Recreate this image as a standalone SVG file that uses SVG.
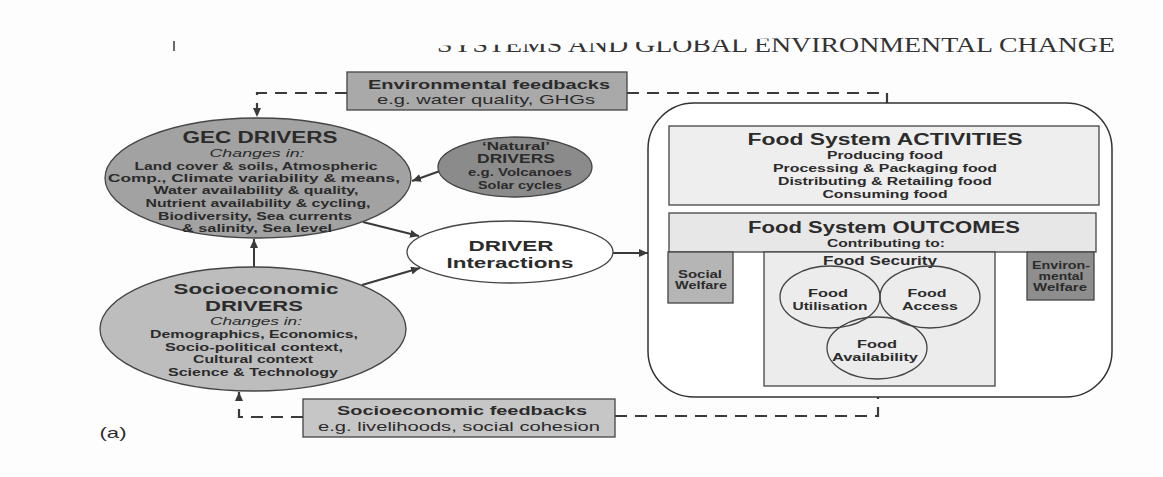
<svg xmlns="http://www.w3.org/2000/svg" width="1163" height="477" viewBox="0 0 1163 477">
<defs>
<style>
text{font-family:"Liberation Sans",Arial,sans-serif;fill:#2b2b2b;text-anchor:middle}
.b{font-weight:bold}
.i{font-style:italic}
.hd{font-family:"Liberation Serif","Times New Roman",serif;font-size:21px;fill:#333;text-anchor:start}
.ln{stroke:#3a3a3a;stroke-width:2;fill:none}
.dash{stroke:#3a3a3a;stroke-width:2.2;fill:none;stroke-dasharray:12 8}
.ol{stroke:#444;stroke-width:1.3}
</style>
<marker id="ah" markerUnits="userSpaceOnUse" markerWidth="9" markerHeight="8" refX="9" refY="4" orient="auto-start-reverse" viewBox="0 0 9 8">
<path d="M0,0 L9,4 L0,8 z" fill="#3a3a3a"/>
</marker>
<marker id="ahs" markerUnits="userSpaceOnUse" markerWidth="7" markerHeight="7" refX="7" refY="3.5" orient="auto-start-reverse" viewBox="0 0 7 7">
<path d="M0,0 L7,3.5 L0,7 z" fill="#3a3a3a"/>
</marker>
<clipPath id="hclip">
<polygon points="420,46 600,43 790,38 1163,30 1163,70 420,70"/>
</clipPath>
</defs>
<rect width="1163" height="477" fill="#fdfdfd"/>

<g id="page-header">
<text class="hd" x="437" y="52" textLength="678" lengthAdjust="spacingAndGlyphs" clip-path="url(#hclip)">SYSTEMS AND GLOBAL ENVIRONMENTAL CHANGE</text>
<line x1="174" y1="41" x2="174" y2="51" stroke="#444" stroke-width="1.6"/>
</g>

<g id="connectors">
<path class="dash" d="M347,93 H257 V117" marker-end="url(#ah)"/>
<path class="dash" d="M627,93 H887 V103"/>
<path class="dash" d="M303,417 H239 V392" marker-end="url(#ah)"/>
<path class="dash" d="M615,416 H878 V397"/>
<line class="ln" x1="440" y1="171" x2="412" y2="181" marker-end="url(#ah)"/>
<line class="ln" x1="363" y1="222" x2="419" y2="236" marker-end="url(#ah)"/>
<line class="ln" x1="362" y1="285" x2="420" y2="268" marker-end="url(#ah)"/>
<line class="ln" x1="254" y1="267" x2="254" y2="239" marker-end="url(#ah)"/>
<line class="ln" x1="613" y1="253" x2="648" y2="253" marker-end="url(#ah)"/>
<line class="ln" x1="884" y1="204" x2="884" y2="213" marker-end="url(#ahs)"/>
<line class="ln" x1="734" y1="278" x2="764" y2="278" marker-start="url(#ahs)" marker-end="url(#ahs)"/>
<line class="ln" x1="996" y1="275" x2="1027" y2="275" marker-start="url(#ahs)" marker-end="url(#ahs)"/>
</g>

<g id="env-feedbacks">
<rect class="ol" x="347" y="72" width="280" height="38" fill="#a9a9a9"/>
<text class="b" x="489" y="89" font-size="13" textLength="242" lengthAdjust="spacingAndGlyphs">Environmental feedbacks</text>
<text x="486" y="104" font-size="13" textLength="218" lengthAdjust="spacingAndGlyphs">e.g. water quality, GHGs</text>
</g>

<g id="gec-drivers">
<ellipse class="ol" cx="258" cy="178" rx="153" ry="60" fill="#a2a2a2"/>
<text class="b" x="260" y="143" font-size="16" textLength="155" lengthAdjust="spacingAndGlyphs">GEC DRIVERS</text>
<text class="i" x="257" y="157" font-size="11" textLength="95" lengthAdjust="spacingAndGlyphs">Changes in:</text>
<text class="b" x="256" y="170" font-size="11" textLength="243" lengthAdjust="spacingAndGlyphs">Land cover &amp; soils, Atmospheric</text>
<text class="b" x="254" y="182" font-size="11" textLength="292" lengthAdjust="spacingAndGlyphs">Comp., Climate variability &amp; means,</text>
<text class="b" x="256" y="194" font-size="11" textLength="205" lengthAdjust="spacingAndGlyphs">Water availability &amp; quality,</text>
<text class="b" x="258" y="207" font-size="11" textLength="225" lengthAdjust="spacingAndGlyphs">Nutrient availability &amp; cycling,</text>
<text class="b" x="255" y="220" font-size="11" textLength="194" lengthAdjust="spacingAndGlyphs">Biodiversity, Sea currents</text>
<text class="b" x="257" y="232" font-size="11" textLength="150" lengthAdjust="spacingAndGlyphs">&amp; salinity, Sea level</text>
</g>

<g id="natural-drivers">
<ellipse class="ol" cx="515" cy="167" rx="77" ry="30" fill="#8b8b8b"/>
<text class="b" x="516" y="150" font-size="10" textLength="68" lengthAdjust="spacingAndGlyphs">‘Natural’</text>
<text class="b" x="516" y="163" font-size="12" textLength="78" lengthAdjust="spacingAndGlyphs">DRIVERS</text>
<text class="b" x="520" y="176" font-size="11" textLength="104" lengthAdjust="spacingAndGlyphs">e.g. Volcanoes</text>
<text class="b" x="520" y="189" font-size="11" textLength="84" lengthAdjust="spacingAndGlyphs">Solar cycles</text>
</g>

<g id="driver-interactions">
<ellipse class="ol" cx="510" cy="252" rx="103" ry="31" fill="#ffffff"/>
<text class="b" x="511" y="251" font-size="15.5" textLength="85" lengthAdjust="spacingAndGlyphs">DRIVER</text>
<text class="b" x="510" y="268" font-size="15.5" textLength="127" lengthAdjust="spacingAndGlyphs">Interactions</text>
</g>

<g id="socioeconomic-drivers">
<ellipse class="ol" cx="253" cy="329" rx="153" ry="62" fill="#bdbdbd"/>
<text class="b" x="256" y="294" font-size="15" textLength="165" lengthAdjust="spacingAndGlyphs">Socioeconomic</text>
<text class="b" x="254" y="311" font-size="15" textLength="98" lengthAdjust="spacingAndGlyphs">DRIVERS</text>
<text class="i" x="256" y="325" font-size="11" textLength="92" lengthAdjust="spacingAndGlyphs">Changes in:</text>
<text class="b" x="254" y="338" font-size="11" textLength="208" lengthAdjust="spacingAndGlyphs">Demographics, Economics,</text>
<text class="b" x="254" y="351" font-size="11" textLength="178" lengthAdjust="spacingAndGlyphs">Socio-political context,</text>
<text class="b" x="253" y="363" font-size="11" textLength="120" lengthAdjust="spacingAndGlyphs">Cultural context</text>
<text class="b" x="253" y="376" font-size="11" textLength="170" lengthAdjust="spacingAndGlyphs">Science &amp; Technology</text>
</g>

<g id="socio-feedbacks">
<rect class="ol" x="303" y="399" width="312" height="38" fill="#c6c6c6"/>
<text class="b" x="462" y="415" font-size="13" textLength="250" lengthAdjust="spacingAndGlyphs">Socioeconomic feedbacks</text>
<text x="459" y="431" font-size="13" textLength="282" lengthAdjust="spacingAndGlyphs">e.g. livelihoods, social cohesion</text>
</g>

<g id="label-a">
<text x="113" y="438" font-size="15" textLength="27" lengthAdjust="spacingAndGlyphs">(a)</text>
</g>

<g id="food-system">
<rect x="648" y="103" width="464" height="294" rx="46" ry="46" fill="#ffffff" stroke="#333" stroke-width="1.5"/>
</g>

<g id="fs-activities">
<rect class="ol" x="669" y="126" width="430" height="79" fill="#eeeeee"/>
<text class="b" x="885" y="145" font-size="16" textLength="275" lengthAdjust="spacingAndGlyphs">Food System ACTIVITIES</text>
<text class="b" x="885" y="159" font-size="11" textLength="116" lengthAdjust="spacingAndGlyphs">Producing food</text>
<text class="b" x="885" y="172" font-size="11" textLength="224" lengthAdjust="spacingAndGlyphs">Processing &amp; Packaging food</text>
<text class="b" x="885" y="185" font-size="11" textLength="214" lengthAdjust="spacingAndGlyphs">Distributing &amp; Retailing food</text>
<text class="b" x="885" y="198" font-size="11" textLength="125" lengthAdjust="spacingAndGlyphs">Consuming food</text>
</g>

<g id="fs-outcomes">
<rect class="ol" x="669" y="213" width="427" height="39" fill="#e7e7e7"/>
<text class="b" x="884" y="233" font-size="16" textLength="272" lengthAdjust="spacingAndGlyphs">Food System OUTCOMES</text>
<text class="b" x="886" y="247" font-size="11" textLength="118" lengthAdjust="spacingAndGlyphs">Contributing to:</text>
</g>

<g id="social-welfare">
<rect class="ol" x="668" y="252" width="65" height="51" fill="#b5b5b5"/>
<text class="b" x="700" y="278" font-size="10" textLength="44" lengthAdjust="spacingAndGlyphs">Social</text>
<text class="b" x="701" y="289" font-size="10" textLength="52" lengthAdjust="spacingAndGlyphs">Welfare</text>
</g>

<g id="environmental-welfare">
<rect class="ol" x="1027" y="252" width="67" height="48" fill="#8e8e8e"/>
<text class="b" x="1061" y="269" font-size="10" textLength="58" lengthAdjust="spacingAndGlyphs">Environ-</text>
<text class="b" x="1061" y="280" font-size="10" textLength="45" lengthAdjust="spacingAndGlyphs">mental</text>
<text class="b" x="1060" y="291" font-size="10" textLength="54" lengthAdjust="spacingAndGlyphs">Welfare</text>
</g>

<g id="food-security">
<rect class="ol" x="764" y="252" width="231" height="134" fill="#ececec"/>
<text class="b" x="880" y="265" font-size="12" textLength="114" lengthAdjust="spacingAndGlyphs">Food Security</text>
</g>

<g id="food-utilisation">
<ellipse class="ol" cx="830" cy="297" rx="50" ry="31" fill="none"/>
<text class="b" x="828" y="297" font-size="11.5" textLength="40" lengthAdjust="spacingAndGlyphs">Food</text>
<text class="b" x="830" y="310" font-size="11.5" textLength="75" lengthAdjust="spacingAndGlyphs">Utilisation</text>
</g>

<g id="food-access">
<ellipse class="ol" cx="930" cy="297" rx="50" ry="31" fill="none"/>
<text class="b" x="927" y="297" font-size="11.5" textLength="39" lengthAdjust="spacingAndGlyphs">Food</text>
<text class="b" x="930" y="310" font-size="11.5" textLength="56" lengthAdjust="spacingAndGlyphs">Access</text>
</g>

<g id="food-availability">
<ellipse class="ol" cx="877" cy="348" rx="50" ry="31" fill="none"/>
<text class="b" x="877" y="348" font-size="11.5" textLength="40" lengthAdjust="spacingAndGlyphs">Food</text>
<text class="b" x="875" y="361" font-size="11.5" textLength="86" lengthAdjust="spacingAndGlyphs">Availability</text>
</g>
</svg>
